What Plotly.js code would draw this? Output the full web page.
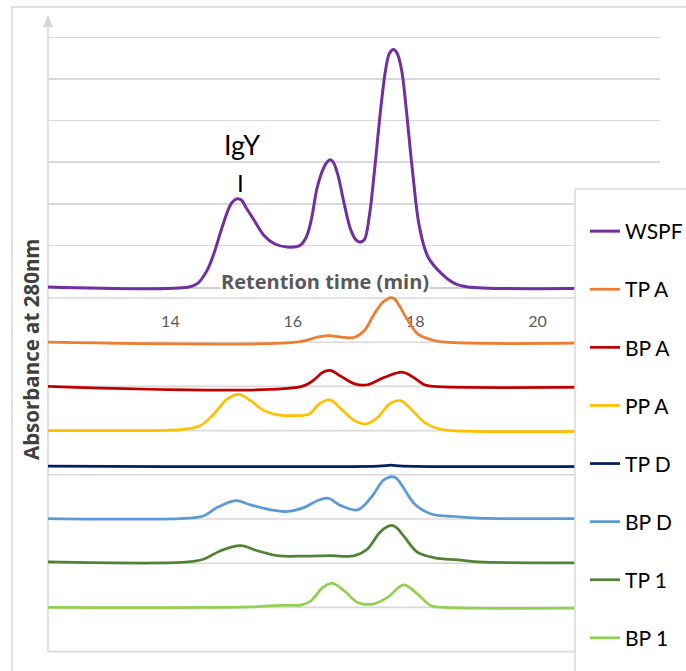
<!DOCTYPE html>
<html>
<head>
<meta charset="utf-8">
<script src="https://cdn.plot.ly/plotly-3.0.1.min.js"></script>
<style>html,body{margin:0;padding:0;background:#fff;}#chart{width:686px;height:671px;}</style>
</head>
<body>
<div id="chart"></div>
<script>
// ---- Data (retention time in min, absorbance in relative units) ----
const seriesNames = ["WSPF", "TP A", "BP A", "PP A", "TP D", "BP D", "TP 1", "BP 1"];
const xTickVals = [14, 16, 18, 20];

const wspfT = [12, 14.3, 14.44, 14.6, 14.71, 14.82, 14.93, 15.0, 15.09, 15.16, 15.24, 15.37, 15.53, 15.7, 15.91, 16.12, 16.22, 16.3, 16.4, 16.51, 16.57, 16.61, 16.66, 16.73, 16.84, 16.95, 17.04, 17.1, 17.17, 17.25, 17.33, 17.44, 17.52, 17.58, 17.65, 17.71, 17.78, 17.85, 17.96, 18.07, 18.21, 18.43, 18.65, 18.86, 22];
const wspfA = [0, 0, 0.08, 0.40, 0.80, 1.32, 1.80, 2.02, 2.12, 2.09, 1.90, 1.60, 1.24, 1.04, 0.96, 1.00, 1.20, 1.60, 2.40, 2.88, 3.02, 3.06, 3.00, 2.73, 2.00, 1.36, 1.12, 1.08, 1.14, 1.70, 2.73, 4.33, 5.25, 5.62, 5.71, 5.60, 5.20, 4.33, 2.73, 1.44, 0.72, 0.32, 0.08, 0, 0];

const tpaT = [12, 16.1, 16.4, 16.6, 16.79, 17.01, 17.17, 17.33, 17.47, 17.55, 17.61, 17.67, 17.74, 17.88, 18.04, 18.26, 18.48, 22];
const tpaA = [0, 0.01, 0.12, 0.16, 0.12, 0.12, 0.28, 0.68, 0.96, 1.04, 1.07, 1.03, 0.88, 0.52, 0.20, 0.06, 0, 0];

const bpaT = [12, 16.15, 16.35, 16.49, 16.62, 16.79, 17.01, 17.22, 17.5, 17.8, 17.99, 18.15, 18.3, 22];
const bpaA = [0, 0, 0.16, 0.34, 0.38, 0.24, 0.06, 0.04, 0.22, 0.34, 0.20, 0.04, 0, 0];

const ppaT = [12, 14.0, 14.27, 14.49, 14.71, 14.93, 15.12, 15.31, 15.53, 15.75, 16.02, 16.27, 16.43, 16.61, 16.79, 17.01, 17.2, 17.39, 17.58, 17.76, 17.93, 18.15, 18.37, 18.59, 22];
const ppaA = [0, 0.01, 0.04, 0.12, 0.40, 0.76, 0.87, 0.72, 0.48, 0.38, 0.36, 0.40, 0.64, 0.74, 0.52, 0.24, 0.16, 0.32, 0.64, 0.72, 0.52, 0.20, 0.05, 0, 0];

const tpdT = [12, 17.4, 17.6, 17.8, 22];
const tpdA = [0.21, 0.21, 0.23, 0.21, 0.21];

const bpdT = [12, 14.3, 14.55, 14.77, 15.07, 15.31, 15.64, 15.89, 16.19, 16.4, 16.57, 16.79, 17.06, 17.28, 17.47, 17.55, 17.62, 17.69, 17.77, 17.99, 18.26, 18.65, 19.03, 22];
const bpdA = [0.01, 0.02, 0.08, 0.28, 0.44, 0.34, 0.22, 0.18, 0.28, 0.44, 0.50, 0.32, 0.22, 0.52, 0.92, 0.99, 1.02, 0.98, 0.84, 0.36, 0.12, 0.06, 0.02, 0.02];

const tp1T = [12, 14.3, 14.55, 14.82, 15.15, 15.42, 15.75, 16.19, 16.62, 17.01, 17.22, 17.42, 17.55, 17.62, 17.69, 17.83, 18.04, 18.32, 18.7, 19.03, 22];
const tp1A = [0.03, 0.03, 0.10, 0.30, 0.42, 0.30, 0.18, 0.17, 0.18, 0.18, 0.34, 0.74, 0.88, 0.91, 0.86, 0.62, 0.26, 0.13, 0.08, 0.03, 0.02];

const bp1T = [12, 15.3, 15.8, 16.15, 16.3, 16.49, 16.65, 16.84, 17.06, 17.31, 17.55, 17.81, 18.04, 18.26, 18.48, 22];
const bp1A = [0, 0.01, 0.05, 0.06, 0.16, 0.48, 0.58, 0.40, 0.12, 0.08, 0.24, 0.54, 0.32, 0.04, 0, 0];

const seriesT = [wspfT, tpaT, bpaT, ppaT, tpdT, bpdT, tp1T, bp1T];
const seriesA = [wspfA, tpaA, bpaA, ppaA, tpdA, bpdA, tp1A, bp1A];
const colors = ["#7030a0", "#ed7d31", "#c00000", "#ffc000", "#002060", "#5b9bd5", "#548235", "#92d050"];
const widths = [3, 2.75, 2.75, 2.75, 2.75, 2.75, 2.75, 2.75];

// ---- Layout geometry (pixels) ----
const W = 686, H = 671;
const px = v => v / W;
const py = v => 1 - v / H;
const unit = 41.6;          // px per absorbance unit
const topBase = 287;        // baseline of top panel
const bandTop = 298, bandH = 44.2;
const FONT = "Lato, 'Open Sans', sans-serif";
const BOLDFONT = "'Open Sans', Lato, sans-serif";
const GRID = "#d9d9d9";

const layout = {
  width: W, height: H,
  margin: {l: 0, r: 0, t: 0, b: 0, autoexpand: false},
  paper_bgcolor: "#fff",
  plot_bgcolor: "rgba(0,0,0,0)",
  showlegend: true,
  font: {family: FONT, color: "#000"},
  xaxis: {
    range: [12, 22], domain: [px(48), px(660)],
    anchor: "free", position: py(bandTop),
    showgrid: false, zeroline: false, showline: false, ticks: "",
    tickvals: xTickVals, ticktext: xTickVals.map(String),
    tickfont: {family: FONT, size: 16, color: "#595959"},
    ticklabelstandoff: 12
  },
  yaxis: {
    range: [-0.3, 6.3],
    domain: [py(topBase + 0.3 * unit), py(topBase - 6.3 * unit)],
    tickvals: [1, 2, 3, 4, 5, 6], showticklabels: false, ticks: "",
    showgrid: true, gridcolor: GRID, gridwidth: 1.6,
    zeroline: false, showline: false
  },
  legend: {
    x: px(585), xanchor: "left", y: py(211), yanchor: "top",
    bgcolor: "rgba(0,0,0,0)", borderwidth: 0,
    font: {family: FONT, size: 21, color: "#000"},
    tracegroupgap: 27.8
  },
  shapes: [],
  annotations: []
};

// lower panels' y axes
for (let k = 1; k < 8; k++) {
  const base = bandTop + bandH * k;
  layout["yaxis" + (k + 1)] = {
    range: [-0.3, 1.3],
    domain: [py(base + 0.3 * unit), py(base - 1.3 * unit)],
    visible: false, showgrid: false, zeroline: false, anchor: "x"
  };
}

// outer frame
layout.shapes.push({type: "rect", xref: "paper", yref: "paper",
  x0: px(12), x1: 1.05, y0: -0.05, y1: py(7),
  line: {color: GRID, width: 1.5}, fillcolor: "rgba(0,0,0,0)", layer: "below"});
// vertical axis line
layout.shapes.push({type: "line", xref: "paper", yref: "paper",
  x0: px(48), x1: px(48), y0: py(652), y1: py(25),
  line: {color: GRID, width: 1.6}, layer: "below"});
// arrow head
layout.shapes.push({type: "path", xref: "paper", yref: "paper",
  path: `M ${px(43.5)} ${py(27)} L ${px(48)} ${py(16)} L ${px(52.5)} ${py(27)} Z`,
  fillcolor: GRID, line: {color: GRID, width: 1}, layer: "below"});
// top panel x axis line
layout.shapes.push({type: "line", xref: "paper", yref: "paper",
  x0: px(48), x1: px(660), y0: py(topBase + 1), y1: py(topBase + 1),
  line: {color: "#bfbfbf", width: 1.6}, layer: "below"});
// lower band lines
for (let k = 0; k <= 8; k++) {
  const yv = bandTop + bandH * k;
  layout.shapes.push({type: "line", xref: "paper", yref: "paper",
    x0: px(48), x1: px(660), y0: py(yv), y1: py(yv),
    line: {color: GRID, width: 1.6}, layer: "below"});
}
// legend box
layout.shapes.push({type: "rect", xref: "paper", yref: "paper",
  x0: px(575), x1: 1.05, y0: -0.05, y1: py(189),
  line: {color: GRID, width: 1.5}, fillcolor: "#fff", layer: "above"});

// annotations
const ann = (x, y, text, font, extra) => Object.assign({xref: "paper", yref: "paper",
  x: px(x), y: py(y), xanchor: "center", yanchor: "middle", text: text,
  showarrow: false, font: font}, extra || {});
layout.annotations.push(ann(242, 144, "IgY", {family: FONT, size: 27, color: "#000"}));
layout.annotations.push(ann(241, 182, "I", {family: FONT, size: 24, color: "#000"}));
layout.annotations.push(ann(325, 281, "Retention time (min)",
  {family: BOLDFONT, size: 20, color: "#595959", weight: "bold"}, {bgcolor: "#fff", borderpad: 0}));
layout.annotations.push(ann(31, 349, "Absorbance at 280nm",
  {family: BOLDFONT, size: 20.5, color: "#404040", weight: "bold"}, {textangle: -90}));

const traces = seriesNames.map((name, i) => ({
  type: "scatter", mode: "lines", name: name,
  x: seriesT[i], y: seriesA[i],
  xaxis: "x", yaxis: i === 0 ? "y" : "y" + (i + 1),
  legendgroup: "g" + i,
  line: {color: colors[i], width: widths[i], shape: "spline", smoothing: 1},
  hoverinfo: "skip"
}));

Plotly.newPlot("chart", traces, layout, {staticPlot: true, displayModeBar: false});
</script>
</body>
</html>
